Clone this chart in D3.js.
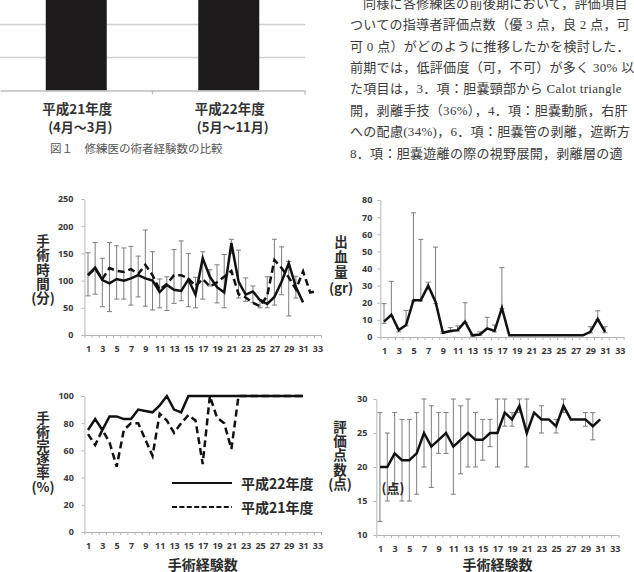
<!DOCTYPE html>
<html>
<head>
<meta charset="utf-8">
<script src="https://cdn.jsdelivr.net/npm/d3@7"></script>
<style>
body { margin: 0; background: #fff; }
svg { display: block; }
.tick text { font-family: "Noto Sans", "Liberation Sans", sans-serif; font-weight: bold; font-size: 9px; fill: #3a3a3a; }
.jp { font-family: "Noto Sans CJK JP", sans-serif; }
</style>
</head>
<body>
<div id="page"></div>
<script>
// top bar chart (only the bottom of it is on the page)
var barCategories = ["平成21年度", "平成22年度"];
var barSubLabels = ["(4月～3月)", "(5月～11月)"];
var barValues = [30, 28];
var barGrid = [5, 10];

// x categories (手術経験数)
var xTickLabels = [1, 3, 5, 7, 9, 11, 13, 15, 17, 19, 21, 23, 25, 27, 29, 31, 33];

// 手術時間 (分)
var timeTicks = [0, 50, 100, 150, 200, 250];
var time22 = [110, 124, 101, 95, 103, 100, 104, 110, 104, 100, 79, 92, 83, 81, 102, 74, 141, 107, 88, 78, 169, 98, 74, 80, 64, 57, 70, 98, 132, 88, 60];
var time21 = [110, 122, 103, 123, 118, 116, 121, 112, 129, 110, 83, 94, 110, 110, 104, 90, 103, 89, 97, 107, 118, 75, 69, 59, 53, 72, 138, 123, 106, 84, 117, 78, 81];
var timeLo = [72, 75, 52, 43, 66, 66, 55, 70, 53, 46, 50, 45, 58, 63, 52, 50, 66, 90, 59, 50, 150, 68, 62, 60, 50, 50, 55, 74, 35, 68, null];
var timeHi = [151, 170, 141, 170, 164, 160, 163, 145, 193, 153, 103, 107, 157, 173, 150, 106, 153, 120, 129, 148, 176, 156, 105, 90, 65, 107, 176, 162, 135, 108, null];

// 出血量 (gr)
var bloodTicks = [0, 10, 20, 30, 40, 50, 60, 70, 80];
var blood = [9, 13, 4, 7, 21.5, 21.5, 30, 20.5, 2.5, 3.5, 4, 9, 1, 1.5, 5, 3.5, 17, 1, 1, 1, 1, 1, 1, 1, 1, 1, 1, 1, 3, 10.5, 3];
var bloodLo = [8, 12, 3, 6.5, 21, 21, 28, 19.5, 2, 3, 3.5, 8.5, 0.5, 1, 4.5, 3, 16.5, null, null, null, null, null, null, null, null, null, null, null, 2.5, 10, 2.5];
var bloodHi = [19.5, 32.5, 5, 15.5, 72.5, 57, 32, 52.5, 3, 5.5, 6.5, 20, 1.5, 3, 11.5, 7, 40.5, null, null, null, null, null, null, null, null, null, null, null, 6, 15.3, 6];

// 手術完遂率 (%)
var rateTicks = [0, 20, 40, 60, 80, 100];
var rate22 = [75, 83, 75, 85, 85, 83, 83, 90, 89, 88, 93, 100, 90, 88, 100, 100, 100, 100, 100, 100, 100, 100, 100, 100, 100, 100, 100, 100, 100, 100, 100];
var rate21 = [72, 64, 75, 66, 48, 75, 80, 80, 68, 56, 87, 82, 73, 80, 86, 82, 50, 100, 84, 80, 61, 100, 100, 100, 100, 100, 100, 100, 100, 100, 100];
var legendNames = ["平成22年度", "平成21年度"];

// 評価点数 (点)
var scoreTicks = [10, 15, 20, 25, 30];
var score = [20, 20, 22, 21, 21, 22, 25, 23, 24, 25, 23, 24, 25, 24, 24, 25, 25, 28, 27, 29, 25, 28, 27, 27, 26, 29, 27, 27, 27, 26, 27];
var scoreLo = [12, 15, 16, 15, 15, 16, 20, 17, 22, 22, 16, 19, 20, 20, 21, 23, 20, 26, 26, 28, 20, null, 25, null, 25, 28, null, null, 26, 24, null];
var scoreHi = [28, 25, 28, 27, 27, 28, 30, 29, 28, 28, 30, 29, 30, 28, 27, 27, 30, 30, 28, 30, 30, null, 29, null, 27, 30, null, null, 28, 28, null];

// body text on the right (only what fits on the page)
var bodyLines = [
  "同様に各修練医の前後期において，評価項目",
  "ついての指導者評価点数（優 3 点，良 2 点，可",
  "可 0 点）がどのように推移したかを検討した．",
  "前期では，低評価度（可，不可）が多く 30% 以",
  "た項目は，3．項：胆嚢頸部から Calot triangle",
  "開，剥離手技（36%），4．項：胆嚢動脈，右肝",
  "への配慮(34%)，6．項：胆嚢管の剥離，遮断方",
  "8．項：胆嚢遊離の際の視野展開，剥離層の適"
];

var width = 634, height = 572;
var svg = d3.select("#page")
  .append("svg")
    .attr("width", width)
    .attr("height", height);
svg.append("rect").attr("width", width).attr("height", height).attr("fill", "#fff");

// ---- top bar chart ----
var bx = d3.scaleBand().domain(barCategories).range([0, 305]).paddingInner(0.6).paddingOuter(0.3);
var by = d3.scaleLinear().domain([0, 10]).range([90.5, 24.5]);
svg.selectAll(".grid").data(barGrid).enter().append("line")
  .attr("x1", 0).attr("x2", 305)
  .attr("y1", function(d) { return by(d); }).attr("y2", function(d) { return by(d); })
  .attr("stroke", "#cfcfcf").attr("stroke-width", 1.3);
svg.selectAll(".bar").data(barValues).enter().append("rect")
  .attr("x", function(d, i) { return bx(barCategories[i]); })
  .attr("width", bx.bandwidth())
  .attr("y", function(d) { return by(d); })
  .attr("height", function(d) { return by(0) - by(d); })
  .attr("fill", "#1c1a1a");
svg.append("g")
  .attr("transform", "translate(0," + by(0) + ")")
  .call(d3.axisBottom(bx).tickValues([]).tickSizeOuter(0))
  .call(function(g) { g.select(".domain").attr("stroke", "#bdbdbd").attr("stroke-width", 1.3); });
[152.5, 305].forEach(function(t) {
  svg.append("line").attr("x1", t).attr("x2", t).attr("y1", by(0)).attr("y2", by(0) + 4)
    .attr("stroke", "#bdbdbd").attr("stroke-width", 1.3);
});
barCategories.forEach(function(c, i) {
  var cx = bx(c) + bx.bandwidth() / 2 + 1;
  svg.append("text").attr("class", "jp").attr("x", cx).attr("y", 108)
    .attr("text-anchor", "middle").attr("dominant-baseline", "central")
    .attr("font-size", 13.5).attr("font-weight", "bold").attr("fill", "#333").text(c);
  svg.append("text").attr("class", "jp").attr("x", cx + 3).attr("y", 126)
    .attr("text-anchor", "middle").attr("dominant-baseline", "central")
    .attr("font-size", 13).attr("font-weight", "bold").attr("fill", "#333").text(barSubLabels[i]);
});
svg.append("text").attr("class", "jp").attr("x", 50).attr("y", 148)
  .attr("dominant-baseline", "central").attr("font-size", 11.5).attr("fill", "#555")
  .text("図１　修練医の術者経験数の比較");

// ---- body text ----
bodyLines.forEach(function(t, i) {
  svg.append("text")
    .attr("x", i == 0 ? 363 : 350)
    .attr("y", 3.2 + i * 21.4)
    .attr("dominant-baseline", "central")
    .attr("font-family", "'Liberation Serif', 'Noto Sans CJK JP', serif")
    .attr("font-size", 13).attr("letter-spacing", 0.3).attr("fill", "#3a3a3a")
    .text(t);
});

// ---- line chart panels ----
function drawPanel(p) {
  var x = d3.scaleLinear().domain([0.5, 33.5]).range(p.xRange);
  var y = d3.scaleLinear().domain(p.yDomain).range(p.yRange);
  var g = svg.append("g");

  // Add X axis: little ticks between the categories
  g.append("g")
    .attr("transform", "translate(0," + p.yRange[0] + ")")
    .call(d3.axisBottom(x).tickValues(d3.range(0.5, 34, 1)).tickFormat("").tickSize(3).tickSizeOuter(0))
    .call(function(a) { a.selectAll("line,path").attr("stroke", "#b5b5b5"); });
  g.append("g")
    .attr("transform", "translate(0," + p.yRange[0] + ")")
    .call(d3.axisBottom(x).tickValues(xTickLabels).tickSize(0).tickPadding(11))
    .call(function(a) { a.select(".domain").remove(); });

  // Add Y axis
  g.append("g")
    .attr("transform", "translate(" + p.xRange[0] + ",0)")
    .call(d3.axisLeft(y).tickValues(p.yTicks).tickSize(3).tickPadding(p.pad).tickSizeOuter(0))
    .call(function(a) {
      a.select(".domain").attr("stroke", "#c4c4c4").attr("stroke-width", 1.2);
      a.selectAll(".tick line").attr("stroke", "#b5b5b5");
    });

  // error bars
  if (p.hi) {
    p.hi.forEach(function(h, i) {
      if (h == null) return;
      var cx = x(i + 1);
      var eb = g.append("g").attr("stroke", "#7d7d7d").attr("stroke-width", 1);
      eb.append("line").attr("x1", cx).attr("x2", cx).attr("y1", y(p.lo[i])).attr("y2", y(h));
      eb.append("line").attr("x1", cx - 2.5).attr("x2", cx + 2.5).attr("y1", y(h)).attr("y2", y(h));
      eb.append("line").attr("x1", cx - 2.5).attr("x2", cx + 2.5).attr("y1", y(p.lo[i])).attr("y2", y(p.lo[i]));
    });
  }

  // Add the lines
  p.series.forEach(function(s) {
    g.append("path")
      .datum(s.values)
      .attr("fill", "none")
      .attr("stroke", "#111")
      .attr("stroke-width", 2.5)
      .attr("stroke-linejoin", "miter")
      .attr("stroke-dasharray", s.dashed ? "7,4" : null)
      .attr("d", d3.line()
        .x(function(d, i) { return x(i + 1); })
        .y(function(d) { return y(d); })
      );
  });

  // vertical axis title, one character per row inside a single text
  var tt = g.append("text").attr("class", "jp")
    .attr("text-anchor", "middle").attr("dominant-baseline", "central")
    .attr("font-size", 13.5).attr("font-weight", "bold").attr("fill", "#2a2a2a");
  p.title.forEach(function(ch, i) {
    tt.append("tspan")
      .attr("x", p.titleX).attr("y", p.titleY + i * p.titleStep)
      .text(ch);
  });

  if (p.xTitle) {
    g.append("text").attr("class", "jp")
      .attr("x", x(17)).attr("y", 563.5)
      .attr("text-anchor", "middle").attr("dominant-baseline", "central")
      .attr("font-size", 14).attr("font-weight", "bold").attr("fill", "#2a2a2a")
      .text(p.xTitle);
  }
  return g;
}

drawPanel({
  xRange: [84.4, 321], yDomain: [0, 250], yRange: [335, 199], yTicks: timeTicks, pad: 8,
  series: [{ values: time21, dashed: true }, { values: time22 }],
  lo: timeLo, hi: timeHi,
  title: ["手", "術", "時", "間", "(分)"], titleX: 43, titleY: 240, titleStep: 14.3
});

drawPanel({
  xRange: [380.3, 623.5], yDomain: [0, 80], yRange: [337, 200], yTicks: bloodTicks, pad: 5,
  series: [{ values: blood }],
  lo: bloodLo, hi: bloodHi,
  title: ["出", "血", "量", "(gr)"], titleX: 341, titleY: 241, titleStep: 15.2
});

drawPanel({
  xRange: [84.4, 321], yDomain: [0, 100], yRange: [532, 396], yTicks: rateTicks, pad: 7.5,
  series: [{ values: rate21, dashed: true }, { values: rate22 }],
  title: ["手", "術", "完", "遂", "率", "(%)"], titleX: 43, titleY: 417, titleStep: 13.8,
  xTitle: "手術経験数"
});

drawPanel({
  xRange: [376.3, 618.5], yDomain: [10, 30], yRange: [535, 399], yTicks: scoreTicks, pad: 6,
  series: [{ values: score }],
  lo: scoreLo, hi: scoreHi,
  title: ["評", "価", "点", "数", "(点)"], titleX: 340, titleY: 426, titleStep: 14.2,
  xTitle: "手術経験数"
});

// stray unit label inside the score panel
svg.append("text").attr("class", "jp").attr("x", 393).attr("y", 487)
  .attr("text-anchor", "middle").attr("dominant-baseline", "central")
  .attr("font-size", 13).attr("font-weight", "bold").attr("fill", "#2a2a2a").text("(点)");

// legend of the completion rate panel
legendNames.forEach(function(name, i) {
  var ly = 483 + i * 24;
  svg.append("line").attr("x1", 172).attr("x2", 232).attr("y1", ly).attr("y2", ly)
    .attr("stroke", "#111").attr("stroke-width", 2)
    .attr("stroke-dasharray", i == 1 ? "5,2.4" : null);
  svg.append("text").attr("class", "jp").attr("x", 241).attr("y", ly)
    .attr("dominant-baseline", "central")
    .attr("font-size", 14).attr("font-weight", "bold").attr("fill", "#2a2a2a").text(name);
});
</script>
</body>
</html>
